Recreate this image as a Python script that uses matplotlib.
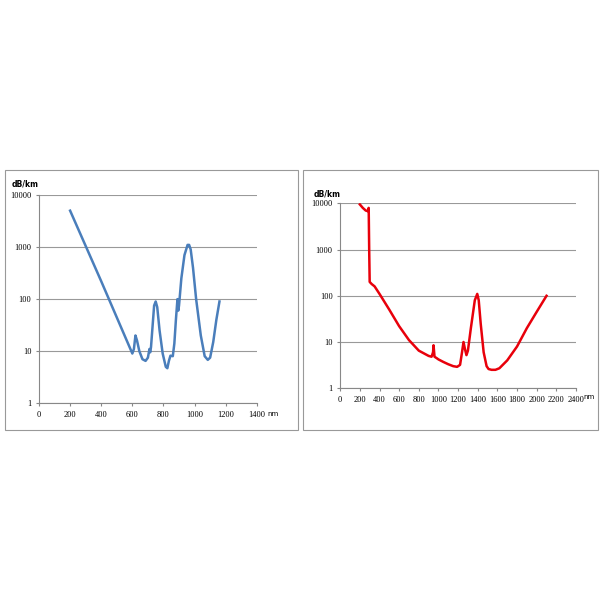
import matplotlib
matplotlib.use("Agg")
import matplotlib.pyplot as plt
from matplotlib.patches import Rectangle

left_nm = [200, 400, 600, 610, 620, 630, 645, 665, 685, 700, 710, 715, 720, 730, 740, 750, 760, 775, 795, 815, 825, 835, 845, 860, 870, 880, 890, 895, 900, 915, 935, 955, 965, 975, 990, 1010, 1040, 1065, 1085, 1100, 1120, 1140, 1160]
left_db = [5000, 220, 9, 11, 20, 16, 10, 7, 6.5, 7.5, 11, 9.5, 12, 30, 75, 90, 70, 25, 9, 5, 4.7, 6.5, 8.2, 8, 14, 40, 100, 60, 75, 250, 700, 1100, 1100, 900, 400, 100, 20, 8, 6.8, 7.5, 15, 40, 90]
right_nm = [200, 230, 260, 280, 290, 295, 300, 320, 350, 400, 500, 600, 700, 800, 900, 930, 945, 950, 960, 980, 1000, 1050, 1100, 1150, 1190, 1220, 1240, 1255, 1270, 1285, 1300, 1330, 1370, 1395, 1410, 1430, 1460, 1490, 1510, 1540, 1580, 1620, 1700, 1800, 1900, 2000, 2100]
right_db = [9500, 8000, 7000, 6800, 8000, 1000, 200, 180, 160, 110, 50, 22, 11, 6.5, 5, 4.8, 6, 8.5, 4.8, 4.5, 4.2, 3.7, 3.3, 3.0, 2.9, 3.2, 6, 10, 7, 5.2, 6.5, 20, 80, 110, 80, 25, 6, 3.0, 2.6, 2.5, 2.5, 2.7, 4, 8, 20, 45, 100]

fig = plt.figure(figsize=(6, 6), dpi=100)
for x0, w in [(5, 293), (303, 295)]:
    fig.patches.append(Rectangle((x0/600, 1-430/600), w/600, 260/600, transform=fig.transFigure,
                                 fill=False, edgecolor='#999999', lw=0.8))

def setup(ax, xmax, step, data_x, data_y, color, nmx):
    ax.plot(data_x, data_y, color=color, lw=1.8)
    ax.set_yscale('log')
    ax.set_ylim(1, 10000)
    ax.set_xlim(0, xmax)
    ax.set_xticks(range(0, xmax+1, step))
    ax.set_yticks([1, 10, 100, 1000, 10000])
    ax.set_yticklabels(['1', '10', '100', '1000', '10000'])
    ax.minorticks_off()
    ax.tick_params(labelsize=6, length=2, color='#888888')
    for lab in ax.get_xticklabels() + ax.get_yticklabels():
        lab.set_fontfamily('Liberation Serif')
    ax.grid(axis='y', color='#999999', lw=0.8)
    for s in ['top', 'right']:
        ax.spines[s].set_visible(False)
    for s in ['left', 'bottom']:
        ax.spines[s].set_color('#888888')
    ax.text(0, 1.04, 'dB/km', transform=ax.transAxes, fontsize=5.5, ha='right', fontweight='bold')
    ax.text(nmx, -0.05, 'nm', transform=ax.transAxes, fontsize=5, ha='left', va='center')

ax1 = fig.add_axes([0.065, 0.328, 0.363, 0.347])
setup(ax1, 1400, 200, left_nm, left_db, '#4a7ebb', 1.05)
ax2 = fig.add_axes([0.567, 0.353, 0.393, 0.308])
setup(ax2, 2400, 200, right_nm, right_db, '#e8000b', 1.03)
fig.savefig('out.png', dpi=100)
